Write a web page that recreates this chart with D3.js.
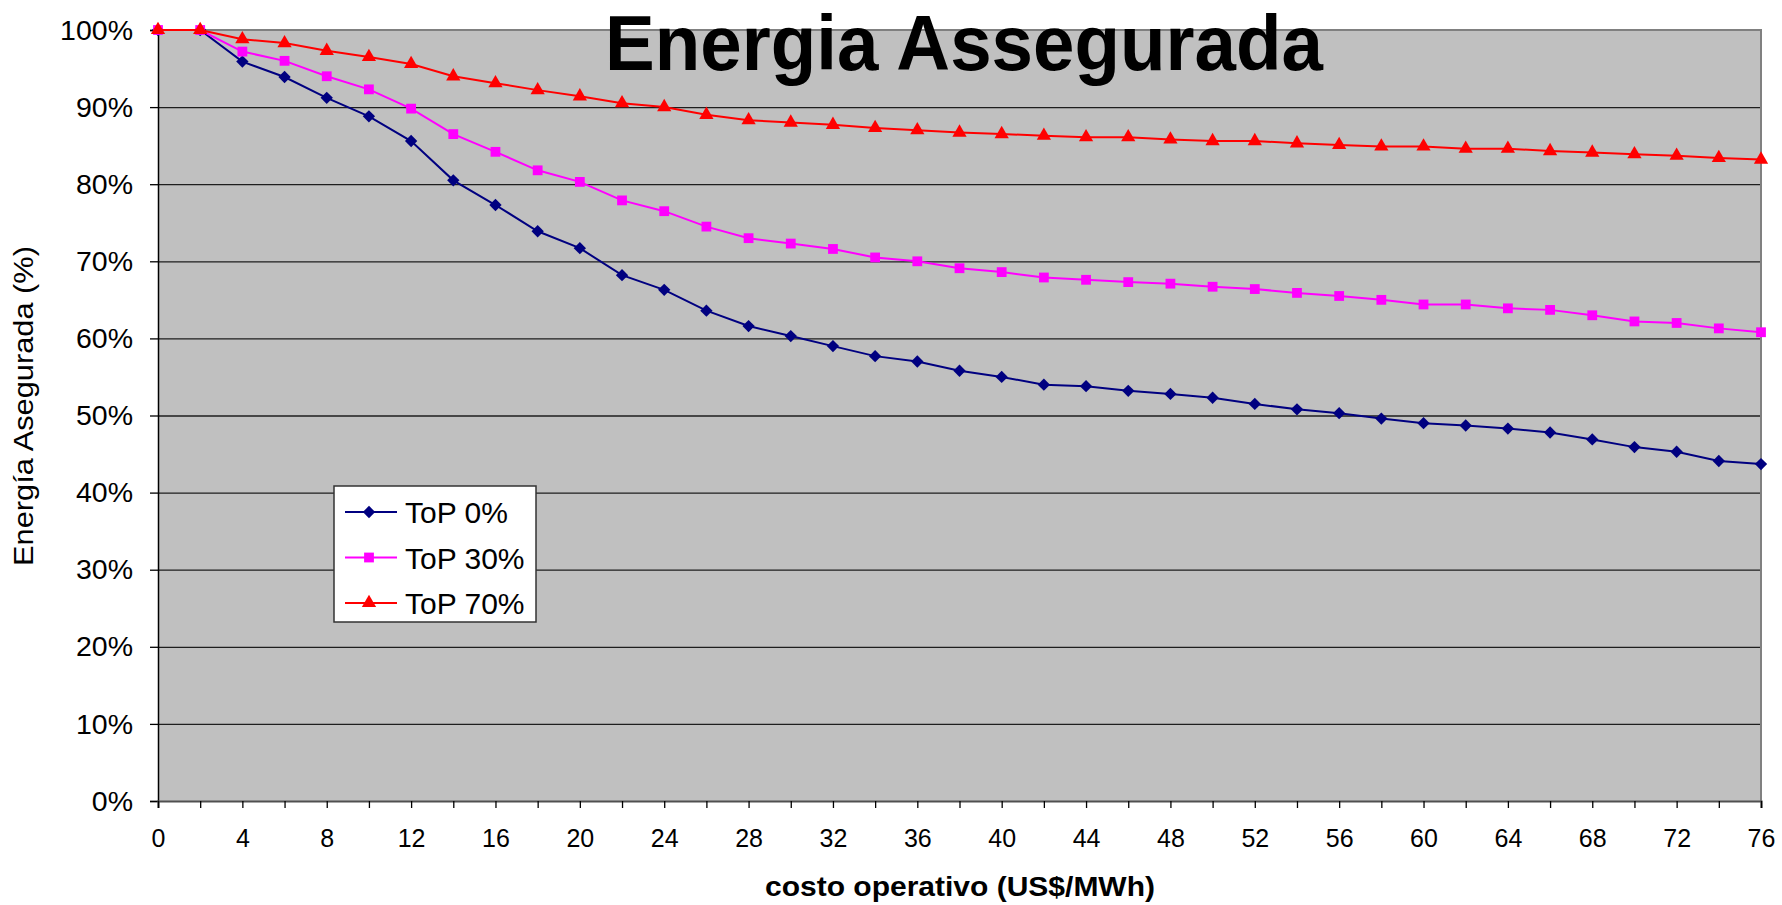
<!DOCTYPE html>
<html>
<head>
<meta charset="utf-8">
<script src="https://cdn.jsdelivr.net/npm/d3@7"></script>
<style>
body { margin: 0; background: #fff; }
svg { display: block; }
text { font-family: "Liberation Sans", Arial, sans-serif; fill: #000; }
</style>
</head>
<body>
<svg width="1782" height="905"></svg>
<script>
// costo operativo (US$/MWh)
var costo = [0, 2, 4, 6, 8, 10, 12, 14, 16, 18, 20, 22, 24, 26, 28, 30, 32, 34, 36, 38,
             40, 42, 44, 46, 48, 50, 52, 54, 56, 58, 60, 62, 64, 66, 68, 70, 72, 74, 76]

// energia asegurada (%)
var top0 = [100, 100, 95.9, 93.9, 91.2, 88.8, 85.6, 80.5, 77.3, 73.9, 71.7, 68.2, 66.3, 63.6, 61.6, 60.3, 59.0, 57.7, 57.0, 55.8,
            55.0, 54.0, 53.8, 53.2, 52.8, 52.3, 51.5, 50.8, 50.3, 49.6, 49.0, 48.7, 48.3, 47.8, 46.9, 45.9, 45.3, 44.1, 43.7]
var top30 = [100, 100, 97.2, 96.0, 94.0, 92.3, 89.8, 86.5, 84.2, 81.8, 80.3, 77.9, 76.5, 74.5, 73.0, 72.3, 71.6, 70.5, 70.0, 69.1,
             68.6, 67.9, 67.6, 67.3, 67.1, 66.7, 66.4, 65.9, 65.5, 65.0, 64.4, 64.4, 63.9, 63.7, 63.0, 62.2, 62.0, 61.3, 60.8]
var top70 = [100, 100, 98.8, 98.3, 97.3, 96.5, 95.6, 94.0, 93.1, 92.2, 91.4, 90.5, 90.0, 89.0, 88.3, 88.0, 87.7, 87.3, 87.0, 86.7,
             86.5, 86.3, 86.1, 86.1, 85.8, 85.6, 85.6, 85.3, 85.1, 84.9, 84.9, 84.6, 84.6, 84.3, 84.1, 83.9, 83.7, 83.4, 83.2]

var seriesNames = ["ToP 0%", "ToP 30%", "ToP 70%"]
var yTicks = [0, 10, 20, 30, 40, 50, 60, 70, 80, 90, 100]
var xLabels = [0, 4, 8, 12, 16, 20, 24, 28, 32, 36, 40, 44, 48, 52, 56, 60, 64, 68, 72, 76]

var series = [
    { name: seriesNames[0], values: top0, color: "#000080", symbol: d3.symbolSquare, size: 76, rot: 45 },
    { name: seriesNames[1], values: top30, color: "#FF00FF", symbol: d3.symbolSquare, size: 96, rot: 0 },
    { name: seriesNames[2], values: top70, color: "#FF0000", symbol: d3.symbolTriangle, size: 88, rot: 0 }
]

var svg = d3.select("svg")
var pLeft = 158, pRight = 1761, pTop = 30, pBottom = 801

var x = d3.scaleLinear().domain([0, 76]).range([pLeft, pRight])
var y = d3.scaleLinear().domain([0, 100]).range([pBottom, pTop])

// fondo del grafico
svg.append("rect")
    .attr("x", pLeft).attr("y", pTop)
    .attr("width", pRight - pLeft).attr("height", pBottom - pTop)
    .attr("fill", "#C0C0C0")

// lineas de grilla
svg.append("g")
    .attr("transform", "translate(" + pLeft + ",0)")
    .call(d3.axisLeft(y).tickValues(yTicks.slice(1, -1)).tickSize(-(pRight - pLeft)).tickFormat(""))
    .call(g => g.select(".domain").remove())
    .selectAll("line").attr("stroke", "#1e1e1e").attr("stroke-width", 1.3)

// borde arriba y derecha
svg.append("path")
    .attr("d", "M" + pLeft + "," + pTop + "H" + pRight + "V" + pBottom)
    .attr("fill", "none").attr("stroke", "#808080").attr("stroke-width", 2)

// eje y
var yAxis = svg.append("g")
    .attr("transform", "translate(" + pLeft + ",0)")
    .call(d3.axisLeft(y).tickValues(yTicks).tickSize(8).tickPadding(17).tickFormat(d => d + "%"))
yAxis.select(".domain").attr("stroke", "#000").attr("stroke-width", 1.5)
yAxis.selectAll(".tick line").attr("stroke", "#000").attr("stroke-width", 1.3)
yAxis.selectAll("text").attr("font-size", 28.5).attr("font-family", "Liberation Sans, Arial, sans-serif")

// eje x
var xAxis = svg.append("g")
    .attr("transform", "translate(0," + pBottom + ")")
    .call(d3.axisBottom(x).tickValues(costo).tickSize(7).tickPadding(21)
        .tickFormat(d => xLabels.indexOf(d) >= 0 ? d : ""))
xAxis.select(".domain").attr("stroke", "#505050").attr("stroke-width", 2.2)
xAxis.selectAll(".tick line").attr("stroke", "#000").attr("stroke-width", 1.3)
xAxis.selectAll("text").attr("font-size", 25).attr("font-family", "Liberation Sans, Arial, sans-serif")

// series
var line = d3.line().x((d, i) => x(costo[i])).y(d => y(d))

series.forEach(s => {
    var g = svg.append("g")
    g.append("path")
        .datum(s.values)
        .attr("d", line)
        .attr("fill", "none")
        .attr("stroke", s.color)
        .attr("stroke-width", 2)
    g.selectAll("path.mark").data(s.values)
        .enter().append("path")
        .attr("class", "mark")
        .attr("d", d3.symbol().type(s.symbol).size(s.size))
        .attr("transform", (d, i) => "translate(" + x(costo[i]) + "," + y(d) + ") rotate(" + s.rot + ")")
        .attr("fill", s.color)
})

// leyenda
var legend = svg.append("g").attr("transform", "translate(334,486)")
legend.append("rect")
    .attr("width", 202).attr("height", 136)
    .attr("fill", "#fff").attr("stroke", "#333").attr("stroke-width", 1.5)
series.forEach((s, i) => {
    var ly = 26 + i * 45.5
    legend.append("line")
        .attr("x1", 11).attr("x2", 63).attr("y1", ly).attr("y2", ly)
        .attr("stroke", s.color).attr("stroke-width", 2)
    legend.append("path")
        .attr("d", d3.symbol().type(s.symbol).size(s.size))
        .attr("transform", "translate(35," + ly + ") rotate(" + s.rot + ")")
        .attr("fill", s.color)
    legend.append("text")
        .attr("x", 71).attr("y", ly + 11)
        .attr("font-size", 30)
        .text(s.name)
})

// titulos
svg.append("text")
    .attr("x", 605).attr("y", 70)
    .attr("font-size", 78).attr("font-weight", "bold")
    .attr("textLength", 718).attr("lengthAdjust", "spacingAndGlyphs")
    .text("Energia Assegurada")

svg.append("text")
    .attr("x", 960).attr("y", 896)
    .attr("text-anchor", "middle")
    .attr("font-size", 27).attr("font-weight", "bold")
    .attr("textLength", 390).attr("lengthAdjust", "spacingAndGlyphs")
    .text("costo operativo (US$/MWh)")

svg.append("text")
    .attr("transform", "translate(33,406) rotate(-90)")
    .attr("text-anchor", "middle")
    .attr("font-size", 27)
    .attr("textLength", 320).attr("lengthAdjust", "spacingAndGlyphs")
    .text("Energía Asegurada (%)")
</script>
</body>
</html>
